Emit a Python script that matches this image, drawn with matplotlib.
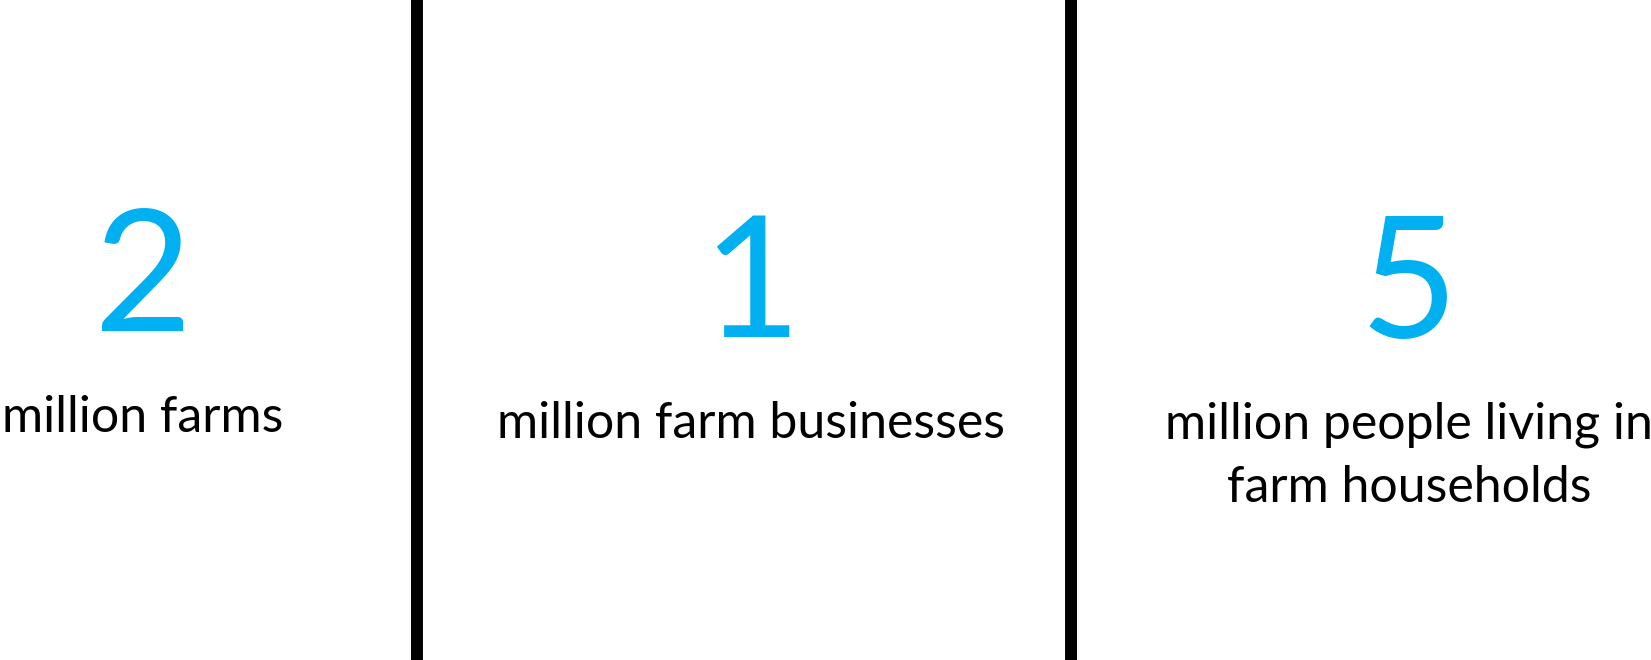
import matplotlib.pyplot as plt

# --- data ---
numbers = ['2', '1', '5']
labels = [['million farms'],
          ['million farm businesses'],
          ['million people living in', 'farm households']]

# --- layout (pixel coordinates, figure is 1651x660) ---
col_x = [143, 751, 1409]
num_base = [331, 337, 338]
lab_base = [432, 438, 438]
line_step = 64
divider_x = [417, 1071]

plt.rcParams['font.family'] = ['Lato', 'DejaVu Sans']

fig = plt.figure(figsize=(16.51, 6.6), dpi=100)
ax = fig.add_axes([0, 0, 1, 1])
ax.set_xlim(0, 1651)
ax.set_ylim(660, 0)
ax.axis('off')

for x in divider_x:
    ax.axvline(x, color='black', linewidth=8.6)

for x, n, nb, lines, lb in zip(col_x, numbers, num_base, labels, lab_base):
    ax.text(x, nb, n, color='#00B0F0', fontsize=122, ha='center', va='baseline')
    for i, line in enumerate(lines):
        ax.text(x, lb + i * line_step, line, color='black', fontsize=36,
                ha='center', va='baseline')

fig.savefig('out.png', dpi=100)
